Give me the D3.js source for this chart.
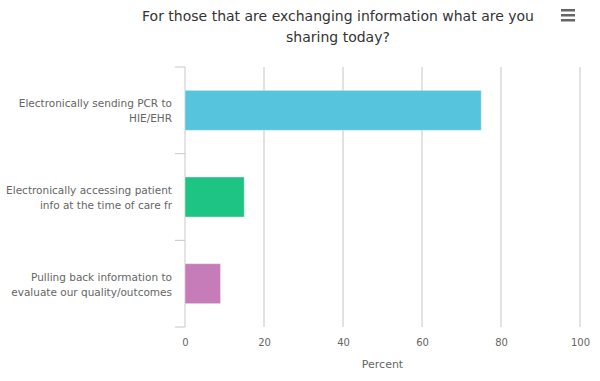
<!DOCTYPE html>
<html>
<head>
<meta charset="utf-8">
<script src="https://cdn.jsdelivr.net/npm/d3@7"></script>
<style>
  body { margin: 0; background: #fff; }
  svg { font-family: "DejaVu Sans", sans-serif; }
</style>
</head>
<body>
<svg id="chart" width="600" height="381"></svg>
<script>
// chart data
const categories = [
    ["Electronically sending PCR to", "HIE/EHR"],
    ["Electronically accessing patient", "info at the time of care fr"],
    ["Pulling back information to", "evaluate our quality/outcomes"]
];
const values = [75, 15, 9];
const barColors = ["#55c4dc", "#1dc484", "#c57cb8"];
const xTicks = [0, 20, 40, 60, 80, 100];

const margin = { top: 67, right: 20, bottom: 54, left: 185 };
const svgWidth = 600, svgHeight = 381;
const width = svgWidth - margin.left - margin.right;
const height = svgHeight - margin.top - margin.bottom;

const svg = d3.select("#chart");

// title
const title = svg.append("text")
    .attr("text-anchor", "middle")
    .attr("fill", "#333")
    .style("font-size", "14px");
title.append("tspan").attr("x", 338).attr("y", 21).text("For those that are exchanging information what are you");
title.append("tspan").attr("x", 338).attr("y", 42).text("sharing today?");

// menu icon
[0, 5, 10].forEach(d => {
    svg.append("rect")
        .attr("x", 561).attr("y", 9 + d)
        .attr("width", 14).attr("height", 2.5)
        .attr("fill", "#666");
});

const g = svg.append("g")
    .attr("transform", `translate(${margin.left}, ${margin.top})`);

const xScale = d3.scaleLinear()
    .domain([0, 100])
    .range([0, width]);

const yScale = d3.scaleBand()
    .domain(d3.range(categories.length))
    .range([0, height])
    .padding(0);

// gridlines
g.selectAll("line.grid")
    .data(xTicks.slice(1))
    .enter()
    .append("line")
    .attr("class", "grid")
    .attr("x1", d => xScale(d)).attr("x2", d => xScale(d))
    .attr("y1", 0).attr("y2", height)
    .attr("stroke", "#d8d8d8")
    .attr("stroke-width", 1.5);

// x axis (labels only)
const xAxis = g.append("g")
    .attr("transform", `translate(0, ${height})`)
    .call(d3.axisBottom(xScale).tickValues(xTicks).tickSize(0).tickPadding(12));
xAxis.select(".domain").remove();
xAxis.selectAll("text")
    .attr("fill", "#666")
    .style("font-size", "10px")
    .style("font-family", "DejaVu Sans, sans-serif");

g.append("text")
    .attr("x", xScale(50))
    .attr("y", height + 41)
    .attr("text-anchor", "middle")
    .attr("fill", "#666")
    .style("font-size", "11px")
    .text("Percent");

// y axis line and ticks at band edges
g.append("line")
    .attr("x1", 0).attr("x2", 0)
    .attr("y1", 0).attr("y2", height)
    .attr("stroke", "#c8c8c8");
g.selectAll("line.ytick")
    .data(d3.range(categories.length + 1))
    .enter()
    .append("line")
    .attr("class", "ytick")
    .attr("x1", -10).attr("x2", 0)
    .attr("y1", d => d * yScale.step()).attr("y2", d => d * yScale.step())
    .attr("stroke", "#c8c8c8");

// category labels
const labels = g.selectAll("text.cat")
    .data(categories)
    .enter()
    .append("text")
    .attr("class", "cat")
    .attr("text-anchor", "end")
    .attr("fill", "#666")
    .style("font-size", "10.5px");
labels.each(function(d, i) {
    const cy = yScale(i) + yScale.bandwidth() / 2;
    d.forEach((line, j) => {
        d3.select(this).append("tspan")
            .attr("x", -13)
            .attr("y", cy - 3 + j * 15)
            .text(line);
    });
});

// bars
const barH = 40;
g.selectAll("rect.bar")
    .data(values)
    .enter()
    .append("rect")
    .attr("class", "bar")
    .attr("x", 0)
    .attr("y", (d, i) => yScale(i) + (yScale.bandwidth() - barH) / 2)
    .attr("width", d => xScale(d))
    .attr("height", barH)
    .attr("fill", (d, i) => barColors[i])
    .attr("stroke", "#fff")
    .attr("stroke-opacity", 0.4);
</script>
</body>
</html>
